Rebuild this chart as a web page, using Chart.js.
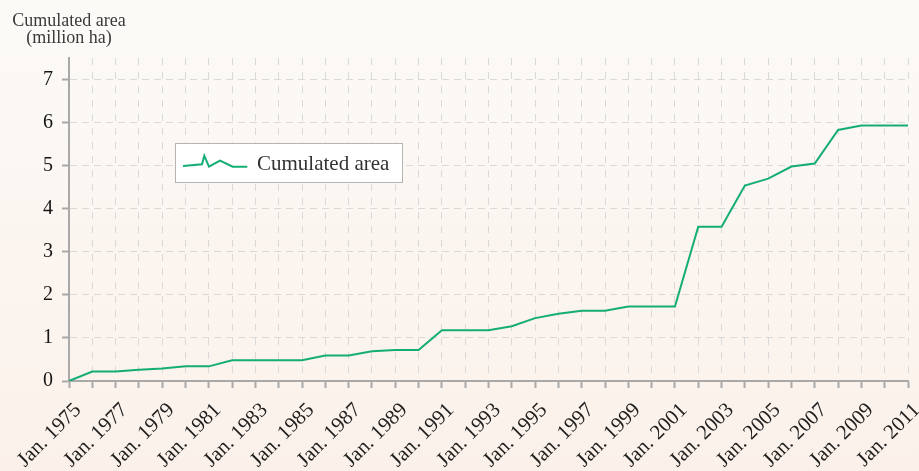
<!DOCTYPE html>
<html>
<head>
<meta charset="utf-8">
<script src="https://cdn.jsdelivr.net/npm/chart.js@4"></script>
<style>
  html, body { margin: 0; padding: 0; background: #fbf5ef; }
  #wrap { width: 919px; height: 471px; }
</style>
</head>
<body>
<div id="wrap"><canvas id="c" width="919" height="471"></canvas></div>
<script>
const categories = ['Jan. 1975','Jan. 1976','Jan. 1977','Jan. 1978','Jan. 1979','Jan. 1980','Jan. 1981','Jan. 1982',
  'Jan. 1983','Jan. 1984','Jan. 1985','Jan. 1986','Jan. 1987','Jan. 1988','Jan. 1989','Jan. 1990','Jan. 1991',
  'Jan. 1992','Jan. 1993','Jan. 1994','Jan. 1995','Jan. 1996','Jan. 1997','Jan. 1998','Jan. 1999','Jan. 2000',
  'Jan. 2001','Jan. 2002','Jan. 2003','Jan. 2004','Jan. 2005','Jan. 2006','Jan. 2007','Jan. 2008','Jan. 2009',
  'Jan. 2010','Jan. 2011'];
const cumulatedArea = [0, 0.22, 0.22, 0.26, 0.29, 0.34, 0.34, 0.48, 0.48, 0.48, 0.48, 0.59, 0.59, 0.69, 0.72, 0.72,
  1.18, 1.18, 1.18, 1.27, 1.46, 1.56, 1.63, 1.63, 1.73, 1.73, 1.73, 3.58, 3.58, 4.54, 4.70, 4.98, 5.05, 5.83, 5.93, 5.93, 5.93];
const seriesLabel = 'Cumulated area';
const axisTitle = ['Cumulated area', '(million ha)'];

const FONT = '"Liberation Serif", "Times New Roman", serif';
const LINE_COLOR = '#14ad74';

const bgPlugin = {
  id: 'bg',
  beforeDraw(chart) {
    const ctx = chart.ctx;
    const g = ctx.createLinearGradient(0, 0, 0, chart.height);
    g.addColorStop(0, '#fcfaf7');
    g.addColorStop(1, '#fbf1ea');
    ctx.save();
    ctx.fillStyle = g;
    ctx.fillRect(0, 0, chart.width, chart.height);
    ctx.restore();
  }
};

const titlePlugin = {
  id: 'ytitle',
  afterDraw(chart) {
    const ctx = chart.ctx;
    ctx.save();
    ctx.fillStyle = '#3a3a3a';
    ctx.font = '18px ' + FONT;
    ctx.textAlign = 'center';
    ctx.textBaseline = 'alphabetic';
    ctx.fillText(axisTitle[0], 69, 26);
    ctx.fillText(axisTitle[1], 69, 43);
    ctx.restore();
  }
};

const legendPlugin = {
  id: 'boxLegend',
  afterDraw(chart) {
    const ctx = chart.ctx;
    const ds = chart.data.datasets[0];
    ctx.save();
    ctx.fillStyle = '#ffffff';
    ctx.strokeStyle = '#b4b4b4';
    ctx.lineWidth = 1;
    ctx.fillRect(175.5, 143.5, 227, 39);
    ctx.strokeRect(175.5, 143.5, 227, 39);
    ctx.strokeStyle = ds.borderColor;
    ctx.lineWidth = 2;
    ctx.lineJoin = 'miter';
    ctx.beginPath();
    ctx.moveTo(183, 166);
    ctx.lineTo(202, 164.3);
    ctx.lineTo(204.3, 155.7);
    ctx.lineTo(209, 166.7);
    ctx.lineTo(220, 160.7);
    ctx.lineTo(232.7, 166.7);
    ctx.lineTo(247.3, 166.7);
    ctx.stroke();
    ctx.fillStyle = '#333333';
    ctx.font = '21px ' + FONT;
    ctx.textBaseline = 'alphabetic';
    ctx.fillText(ds.label, 257, 170);
    ctx.restore();
  }
};

new Chart(document.getElementById('c'), {
  type: 'line',
  data: {
    labels: categories,
    datasets: [{
      label: seriesLabel,
      data: cumulatedArea,
      borderColor: LINE_COLOR,
      backgroundColor: LINE_COLOR,
      borderWidth: 2,
      pointRadius: 0,
      tension: 0,
      fill: false
    }]
  },
  options: {
    responsive: false,
    animation: false,
    layout: { padding: { top: 58, right: 11, left: 0, bottom: 0 } },
    plugins: {
      legend: { display: false },
      tooltip: { enabled: false },
      title: { display: false }
    },
    scales: {
      x: {
        type: 'category',
        offset: false,
        afterFit(s) { s.height = 90; s.paddingLeft = 0; s.paddingRight = 0; },
        grid: {
          color: '#d9d9d9',
          lineWidth: 1,
          tickLength: 7,
          tickColor: '#a9a9a9',
          tickWidth: 2
        },
        border: { display: true, color: '#a9a9a9', width: 2, dash: [7, 7] },
        ticks: {
          autoSkip: false,
          maxRotation: 45,
          minRotation: 45,
          padding: 10,
          labelOffset: 9,
          color: '#1e1e1e',
          font: { family: FONT, size: 21 },
          callback(v, i) { return i % 2 === 0 ? this.getLabelForValue(v) : ''; }
        }
      },
      y: {
        min: 0,
        max: 7.5,
        afterFit(s) { s.width = 69; s.paddingTop = 0; s.paddingBottom = 0; },
        grid: {
          color: '#d9d9d9',
          lineWidth: 1,
          tickLength: 7,
          tickColor: '#a9a9a9',
          tickWidth: 2
        },
        border: { display: true, color: '#a9a9a9', width: 2, dash: [7, 5] },
        ticks: {
          stepSize: 1,
          includeBounds: false,
          padding: 9,
          color: '#151515',
          font: { family: FONT, size: 20 }
        }
      }
    }
  },
  plugins: [bgPlugin, titlePlugin, legendPlugin]
});
</script>
</body>
</html>
